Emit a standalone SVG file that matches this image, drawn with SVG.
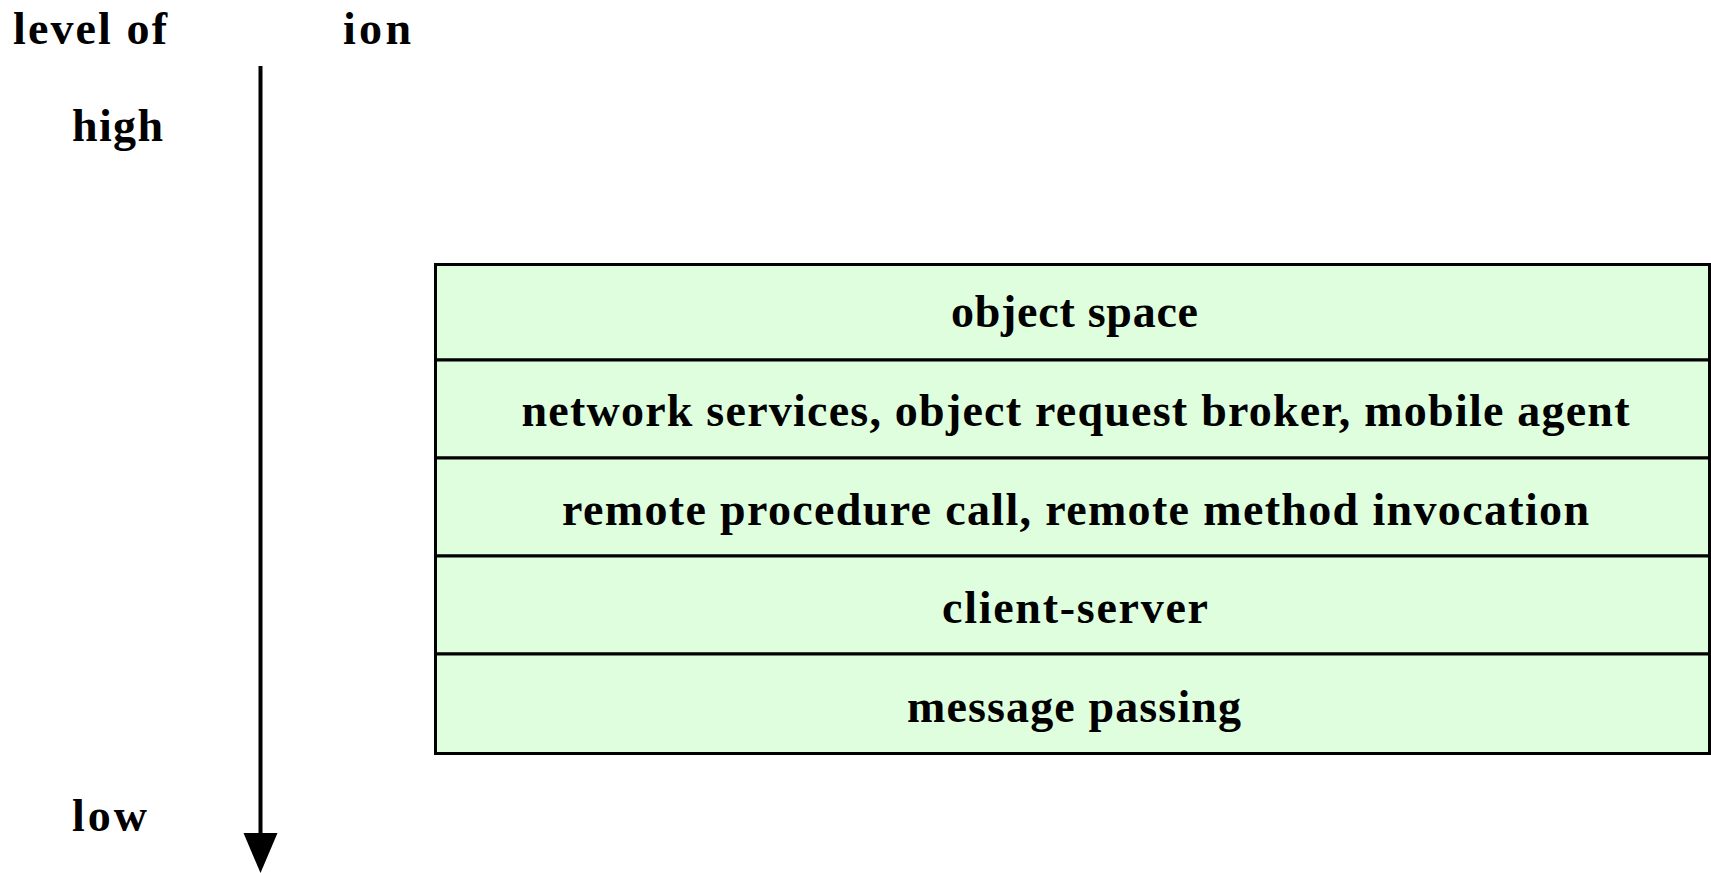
<svg xmlns="http://www.w3.org/2000/svg" width="1711" height="873" viewBox="0 0 1711 873">
<style>
text{font-family:"Liberation Serif","Times New Roman",serif;font-weight:bold;font-size:46px;fill:#000}
.c{text-anchor:middle}
.layer{fill:#DEFEDE;stroke:#000;stroke-width:3}
</style>
<rect width="1711" height="873" fill="#fff"/>
<g id="axis-labels">
<text x="13" y="43.5" textLength="154" lengthAdjust="spacing">level of</text>
<text x="343" y="43.5" textLength="68" lengthAdjust="spacing">ion</text>
<text x="72" y="141" textLength="91" lengthAdjust="spacing">high</text>
<text x="72" y="831" textLength="75" lengthAdjust="spacing">low</text>
</g>
<g id="connectors">
<line x1="260.5" y1="66" x2="260.5" y2="835" stroke="#000" stroke-width="4"/>
<polygon points="243.5,833 277.5,833 260.5,873" fill="#000"/>
</g>
<g id="layer-object-space">
<rect class="layer" x="435.5" y="264.5" width="1274" height="95.5"/>
<text class="c" x="1074.5" y="327" textLength="247" lengthAdjust="spacing">object space</text>
</g>
<g id="layer-network-services">
<rect class="layer" x="435.5" y="360" width="1274" height="98"/>
<text class="c" x="1075.5" y="426" textLength="1108" lengthAdjust="spacing">network services, object request broker, mobile agent</text>
</g>
<g id="layer-rpc">
<rect class="layer" x="435.5" y="458" width="1274" height="98"/>
<text class="c" x="1075.5" y="524.5" textLength="1027" lengthAdjust="spacing">remote procedure call, remote method invocation</text>
</g>
<g id="layer-client-server">
<rect class="layer" x="435.5" y="556" width="1274" height="98"/>
<text class="c" x="1075" y="623" textLength="266" lengthAdjust="spacing">client-server</text>
</g>
<g id="layer-message-passing">
<rect class="layer" x="435.5" y="654" width="1274" height="99.5"/>
<text class="c" x="1074" y="722" textLength="334" lengthAdjust="spacing">message passing</text>
</g>
</svg>
